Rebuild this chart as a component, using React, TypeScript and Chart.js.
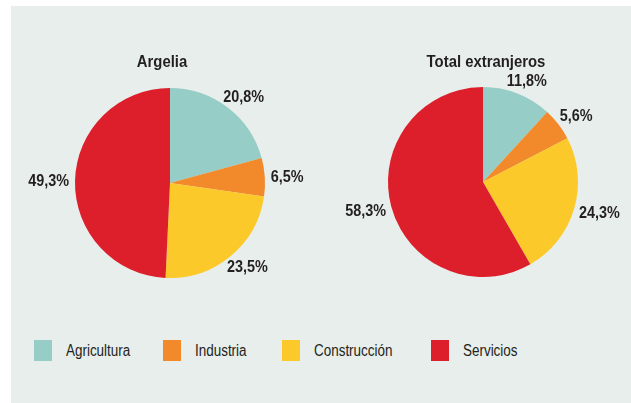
import React, { useEffect, useRef } from "react";
import { Chart, registerables } from "chart.js";
Chart.register(...registerables);

const categories = ["Agricultura", "Industria", "Construcción", "Servicios"];
const colors = ["#96cdc6", "#f28a2b", "#fbc92a", "#dc1f2b"];
const argeliaValues = [20.8, 6.5, 23.5, 49.3];
const extranjerosValues = [11.8, 5.6, 24.3, 58.3];
const titles = ["Argelia", "Total extranjeros"];

const TEXT = "#231f20";
const fmt = (v: number) => v.toFixed(1).replace(".", ",") + "%";

function drawScaled(ctx: any, txt: string, cx: number, cy: number, sx: number) {
  ctx.save();
  ctx.translate(cx, cy);
  ctx.scale(sx, 1);
  ctx.fillText(txt, 0, 0);
  ctx.restore();
}

function makePlugin(title: string, titleX: number, titleY: number) {
  return {
    id: "custom" + title.replace(/\s/g, ""),
    afterDraw(chart: any) {
      const ctx = chart.ctx;
      ctx.save();
      ctx.fillStyle = TEXT;
      ctx.font = "bold 16px 'Liberation Sans', Arial, sans-serif";
      ctx.textAlign = "center";
      ctx.textBaseline = "alphabetic";
      drawScaled(ctx, title, titleX, titleY, 0.93);
      const meta = chart.getDatasetMeta(0);
      const data = chart.data.datasets[0].data as number[];
      ctx.textBaseline = "middle";
      const sx = 0.9;
      meta.data.forEach((arc: any, i: number) => {
        const p = arc.getProps(["x", "y", "startAngle", "endAngle", "outerRadius"], true);
        const mid = (p.startAngle + p.endAngle) / 2;
        const r = p.outerRadius + 6;
        const txt = fmt(data[i]);
        const w = ctx.measureText(txt).width * sx;
        const cx = p.x + Math.cos(mid) * r + Math.cos(mid) * (w / 2);
        const cy = p.y + Math.sin(mid) * r + Math.sin(mid) * 8;
        drawScaled(ctx, txt, cx, cy + 1, sx);
      });
      ctx.restore();
    },
  };
}

function PieChart(props: {
  values: number[];
  title: string;
  left: number;
  width: number;
  height: number;
  padding: { left: number; right: number; top: number; bottom: number };
  titleX: number;
  titleY: number;
}) {
  const ref = useRef<HTMLCanvasElement>(null);
  useEffect(() => {
    const chart = new Chart(ref.current!, {
      type: "pie",
      data: {
        labels: categories,
        datasets: [
          {
            data: props.values,
            backgroundColor: colors,
            borderWidth: 0,
          },
        ],
      },
      options: {
        responsive: false,
        animation: false,
        layout: { padding: props.padding },
        plugins: { legend: { display: false }, tooltip: { enabled: false }, title: { display: false } },
      },
      plugins: [makePlugin(props.title, props.titleX, props.titleY)],
    });
    return () => chart.destroy();
  }, []);
  return (
    <canvas
      ref={ref}
      width={props.width}
      height={props.height}
      style={{ position: "absolute", left: props.left, top: 0, width: props.width, height: props.height }}
    />
  );
}

export default function App() {
  useEffect(() => {
    document.body.style.margin = "0";
  }, []);
  const legendBoxX = [34, 163, 282, 431];
  return (
    <div style={{ position: "relative", width: 631, height: 403, background: "#ffffff", overflow: "hidden" }}>
      <div style={{ position: "absolute", left: 11, top: 6, right: 0, bottom: 0, background: "#e8eeeb" }} />
      <PieChart
        values={argeliaValues}
        title={titles[0]}
        left={0}
        width={315}
        height={320}
        padding={{ left: 75, right: 50, top: 88, bottom: 42 }}
        titleX={162}
        titleY={67}
      />
      <PieChart
        values={extranjerosValues}
        title={titles[1]}
        left={315}
        width={316}
        height={320}
        padding={{ left: 73, right: 53, top: 87, bottom: 43 }}
        titleX={171}
        titleY={67}
      />
      {categories.map((c, i) => (
        <div key={c} style={{ position: "absolute", left: legendBoxX[i], top: 340, height: 21 }}>
          <div style={{ position: "absolute", left: 0, top: 0, width: 18, height: 21, background: colors[i] }} />
          <div
            style={{
              position: "absolute",
              left: 32,
              top: 0,
              whiteSpace: "nowrap",
              font: "16px 'Liberation Sans', Arial, sans-serif",
              color: TEXT,
              transform: "scaleX(0.84)",
              transformOrigin: "left center",
              lineHeight: "21px",
            }}
          >
            {c}
          </div>
        </div>
      ))}
    </div>
  );
}
